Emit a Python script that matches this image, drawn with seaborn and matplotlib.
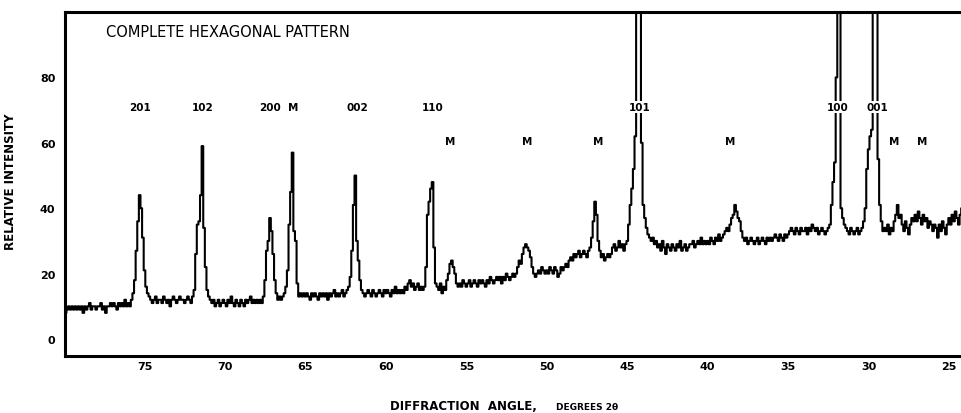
import numpy as np
import pandas as pd
import matplotlib
matplotlib.use("Agg")
import matplotlib.pyplot as plt
import seaborn as sns

# ---- data -------------------------------------------------------------
ANGLE_START = 80.0      # degrees 2-theta, scan start (left)
ANGLE_STEP = 0.1        # scan step
# intensity, one row per degree (80.0 -> 79.1, 79.0 -> 78.1, ...)
intensity = [
    7, 8, 9, 10, 9, 10, 9, 10, 9, 10,          # 80
    9, 10, 8, 10, 9, 10, 11, 9, 10, 10,        # 79
    9, 10, 10, 11, 9, 10, 8, 10, 10, 11,       # 78
    10, 11, 10, 9, 11, 10, 11, 10, 12, 10,     # 77
    11, 10, 12, 14, 18, 27, 36, 44, 40, 31,    # 76
    21, 16, 14, 13, 12, 11, 12, 13, 11, 12,    # 75
    12, 11, 13, 12, 11, 12, 10, 12, 13, 12,    # 74
    11, 12, 13, 12, 12, 11, 12, 13, 12, 11,    # 73
    13, 15, 26, 35, 36, 44, 59, 34, 22, 15,    # 72
    13, 12, 11, 12, 10, 11, 12, 10, 11, 12,    # 71
    11, 10, 12, 11, 13, 11, 10, 12, 11, 10,    # 70
    12, 11, 10, 12, 11, 12, 13, 11, 12, 11,    # 69
    12, 11, 12, 11, 13, 18, 27, 30, 37, 33,    # 68
    26, 18, 14, 12, 13, 12, 13, 14, 16, 21,    # 67
    35, 45, 57, 33, 30, 17, 13, 14, 13, 14,    # 66
    13, 14, 13, 12, 14, 13, 14, 13, 12, 14,    # 65
    13, 14, 13, 14, 12, 14, 13, 14, 15, 13,    # 64
    14, 13, 14, 15, 13, 14, 15, 16, 19, 27,    # 63
    41, 50, 30, 24, 18, 15, 14, 13, 14, 15,    # 62
    14, 13, 15, 14, 13, 14, 15, 14, 13, 15,    # 61
    14, 15, 14, 13, 15, 14, 16, 14, 15, 14,    # 60
    15, 14, 16, 15, 17, 18, 16, 17, 15, 16,    # 59
    17, 15, 16, 15, 16, 22, 38, 42, 46, 48,    # 58
    28, 17, 16, 15, 17, 14, 16, 15, 18, 20,    # 57
    23, 24, 22, 20, 17, 16, 17, 16, 18, 17,    # 56
    16, 17, 18, 16, 17, 18, 17, 16, 18, 17,    # 55
    18, 17, 16, 18, 17, 19, 18, 17, 18, 19,    # 54
    18, 19, 17, 19, 18, 20, 19, 18, 19, 20,    # 53
    19, 20, 22, 24, 23, 26, 28, 29, 28, 27,    # 52
    25, 22, 20, 19, 20, 21, 20, 22, 21, 20,    # 51
    21, 20, 22, 21, 20, 22, 21, 19, 20, 22,    # 50
    21, 22, 23, 22, 24, 25, 24, 26, 25, 26,    # 49
    27, 25, 26, 27, 26, 25, 27, 28, 31, 36,    # 48
    42, 38, 30, 27, 25, 26, 24, 25, 26, 25,    # 47
    26, 28, 29, 27, 28, 30, 28, 29, 27, 29,    # 46
    30, 35, 41, 46, 52, 62, 110, 130, 125, 60, # 45
    41, 37, 34, 32, 31, 30, 31, 29, 30, 28,    # 44
    29, 27, 30, 28, 26, 29, 28, 27, 29, 28,    # 43
    27, 29, 28, 30, 27, 28, 29, 27, 28, 29,    # 42
    29, 30, 28, 29, 30, 29, 31, 29, 30, 29,    # 41
    30, 29, 31, 30, 29, 31, 30, 32, 30, 31,    # 40
    32, 33, 34, 33, 35, 37, 38, 41, 39, 37,    # 39
    36, 33, 31, 30, 31, 29, 30, 31, 30, 29,    # 38
    30, 31, 29, 30, 31, 30, 29, 31, 30, 31,    # 37
    30, 31, 32, 31, 30, 32, 31, 30, 32, 31,    # 36
    32, 33, 34, 33, 32, 34, 33, 32, 34, 33,    # 35
    33, 34, 32, 34, 33, 35, 34, 33, 34, 32,    # 34
    33, 34, 33, 32, 33, 34, 35, 41, 48, 54,    # 33
    80, 130, 140, 40, 37, 35, 34, 33, 32, 34,  # 32
    33, 32, 33, 34, 32, 33, 34, 36, 40, 52,    # 31
    58, 62, 64, 120, 140, 130, 55, 41, 36, 33, # 30
    34, 33, 35, 32, 34, 33, 36, 38, 41, 37,    # 29
    38, 35, 33, 36, 34, 32, 35, 37, 36, 38,    # 28
    36, 39, 37, 35, 38, 36, 37, 34, 36, 35,    # 27
    33, 35, 34, 31, 35, 33, 36, 34, 32, 35,    # 26
    37, 35, 38, 36, 39, 37, 35, 38, 40, 37,    # 25
]
angles = np.round(ANGLE_START - ANGLE_STEP * np.arange(len(intensity)), 1)

# peak (hkl) labels
hkl_labels = ["201", "102", "200", "002", "110", "101", "100", "001"]
hkl_angles = [75.3, 71.4, 67.2, 61.8, 57.1, 44.2, 31.9, 29.45]
# "M" markers
m_angles = [65.75, 56.0, 51.2, 46.8, 38.6, 28.4, 26.7]

x_ticks = [75, 70, 65, 60, 55, 50, 45, 40, 35, 30, 25]
y_ticks = [0, 20, 40, 60, 80]

title_text = "COMPLETE HEXAGONAL PATTERN"
ylabel_text = "RELATIVE INTENSITY"

# ---- plot -------------------------------------------------------------
sns.set_style("white")
plt.rcParams["font.family"] = ["DejaVu Sans"]
plt.rcParams["text.color"] = "black"
plt.rcParams["axes.labelcolor"] = "black"
plt.rcParams["xtick.color"] = "black"
plt.rcParams["ytick.color"] = "black"

fig = plt.figure(figsize=(9.62, 4.14), dpi=100)
ax = fig.add_axes([65 / 962, 1 - 356.7 / 414, 1 - 65 / 962, (356.7 - 12.7) / 414])

df = pd.DataFrame({"angle": angles, "intensity": intensity})
sns.lineplot(data=df, x="angle", y="intensity", ax=ax, color="black",
             lw=1.5, drawstyle="steps-mid", estimator=None)

ax.set_xlim(79.94, 24.2)
ax.set_ylim(-5.1, 100.1)

ax.set_xticks(x_ticks)
ax.set_xticklabels([str(t) for t in x_ticks], fontsize=8, fontweight="bold",
                   color="black")
ax.set_yticks(y_ticks)
ax.set_yticklabels([str(t) for t in y_ticks], fontsize=8, fontweight="bold",
                   color="black")
ax.tick_params(axis="both", direction="in", length=7, width=1.6,
               color="black", labelcolor="black")
ax.tick_params(axis="y", pad=7)
ax.tick_params(axis="x", pad=4)

for side in ["top", "left", "bottom"]:
    ax.spines[side].set_linewidth(2.2)
    ax.spines[side].set_color("black")
ax.spines["right"].set_visible(False)

ax.set_xlabel("")
ax.set_ylabel(ylabel_text, fontsize=8.5, fontweight="bold", color="black")
ax.yaxis.set_label_coords(-0.0535, 0.508)

ax.text(77.4, 93.9, title_text, fontsize=10.5, ha="left", va="center",
        color="black")

box = dict(facecolor="white", edgecolor="none", pad=0.6)
for lab, a in zip(hkl_labels, hkl_angles):
    ax.text(a, 71.0, lab, fontsize=7.5, fontweight="bold", ha="center",
            va="center", bbox=box, zorder=5, color="black")
for a in m_angles:
    y = 71.0 if a > 65 else 60.6
    ax.text(a, y, "M", fontsize=7.5, fontweight="bold", ha="center",
            va="center", bbox=box, zorder=5, color="black")

fig.text(390 / 962, 1 - 407 / 414, "DIFFRACTION  ANGLE,", fontsize=8.5,
         fontweight="bold", ha="left", va="center", color="black")
fig.text(556 / 962, 1 - 408 / 414, "DEGREES 2θ", fontsize=6.5,
         fontweight="bold", ha="left", va="center", color="black")

fig.savefig("out.png", dpi=100, facecolor="white")
